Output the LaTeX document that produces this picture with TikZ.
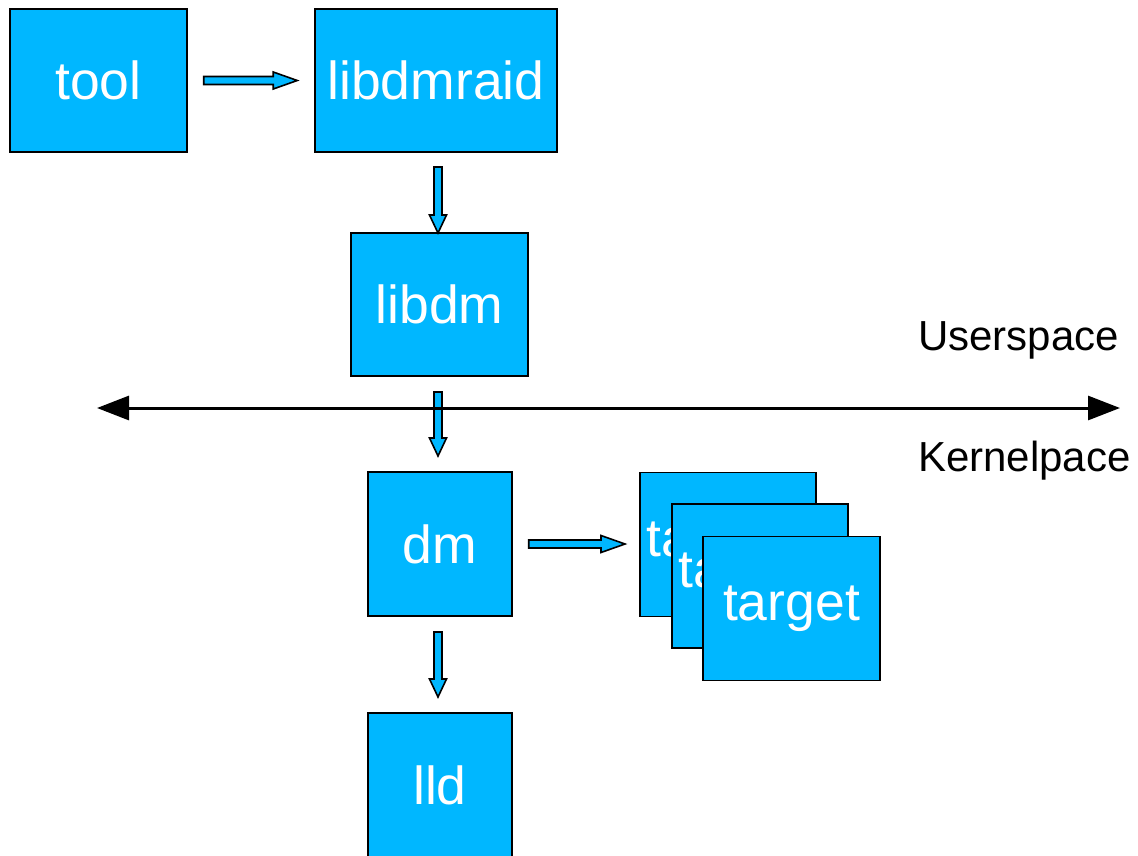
\documentclass[tikz,border=0pt]{standalone}
\usepackage{fontspec}
\setmainfont{Liberation Sans}
\usetikzlibrary{arrows.meta,calc}
\definecolor{boxblue}{RGB}{0,183,255}
\tikzset{
  box/.style={draw=black, line width=1.5pt, fill=boxblue, text=white, inner sep=0pt,
    font=\fontsize{53.5}{60}\selectfont},
  blockarrow/.style={draw=black, line width=1.6pt, fill=boxblue, line join=miter},
  label/.style={font=\fontsize{42}{48}\selectfont, text=black, inner sep=0pt}
}
% horizontal block arrow from #1 to #2 (left to right)
\newcommand\harrow[2]{%
  \draw[blockarrow] ($(#1)+(0,-4)$) -- ($(#2)+(-24,-4)$) -- ($(#2)+(-24,-8.5)$) -- (#2)
    -- ($(#2)+(-24,8.5)$) -- ($(#2)+(-24,4)$) -- ($(#1)+(0,4)$) -- cycle;}
% vertical block arrow from #1 down to #2
\newcommand\varrow[2]{%
  \draw[blockarrow] ($(#1)+(-4,0)$) -- ($(#2)+(-4,-18)$) -- ($(#2)+(-8.5,-18)$) -- (#2)
    -- ($(#2)+(8.5,-18)$) -- ($(#2)+(4,-18)$) -- ($(#1)+(4,0)$) -- cycle;}
\begin{document}
\begin{tikzpicture}[x=1pt,y=-1pt]
\useasboundingbox (0,0) rectangle (1138,855);
\fill[white] (0,0) rectangle (1138,855);

\node[box, minimum width=177pt, minimum height=143pt] (tool) at (98.5,80.5) {tool};
\node[box, minimum width=242pt, minimum height=143pt] (libdmraid) at (436,80.5) {libdmraid};
\node[box, minimum width=177pt, minimum height=143pt] (libdm) at (439.5,304.5) {libdm};
\node[box, minimum width=144pt, minimum height=144pt] (dm) at (440,544) {dm};
\node[box, minimum width=144pt, minimum height=144pt] (lld) at (440,785) {lld};
\node[box, minimum width=176pt, minimum height=144pt] (t1) at (728,544.5) {\raisebox{-4pt}{\hspace*{-26pt}target}};
\node[box, minimum width=176pt, minimum height=144pt] (t2) at (760,576) {\raisebox{-4pt}{\hspace*{-26pt}target}};
\node[box, minimum width=177pt, minimum height=144pt] (t3) at (791.5,608.5) {target};

% block arrows
\coordinate (a1s) at ($(tool.east)+(16,0)$);
\coordinate (a1e) at ($(libdmraid.west)+(-17,0)$);
\harrow{a1s}{a1e}
\coordinate (a2s) at (438,167);
\coordinate (a2e) at (438,233);
\varrow{a2s}{a2e}
\coordinate (a3s) at (438,392);
\coordinate (a3e) at (438,456);
\varrow{a3s}{a3e}
\coordinate (a4s) at ($(dm.east)+(16,0)$);
\coordinate (a4e) at (625,544);
\harrow{a4s}{a4e}
\coordinate (a5s) at (438,632);
\coordinate (a5e) at (438,697);
\varrow{a5s}{a5e}

% user/kernel boundary
\coordinate (bl) at (97,408);
\coordinate (br) at (1120,408);
\draw[line width=3pt, {Triangle[length=32pt,width=24pt]}-{Triangle[length=32pt,width=24pt]}] (bl) -- (br);

\node[label, anchor=west] (us) at (918,340) {Userspace};
\node[label, anchor=west] (ks) at (918,461) {Kernelpace};
\end{tikzpicture}
\end{document}
